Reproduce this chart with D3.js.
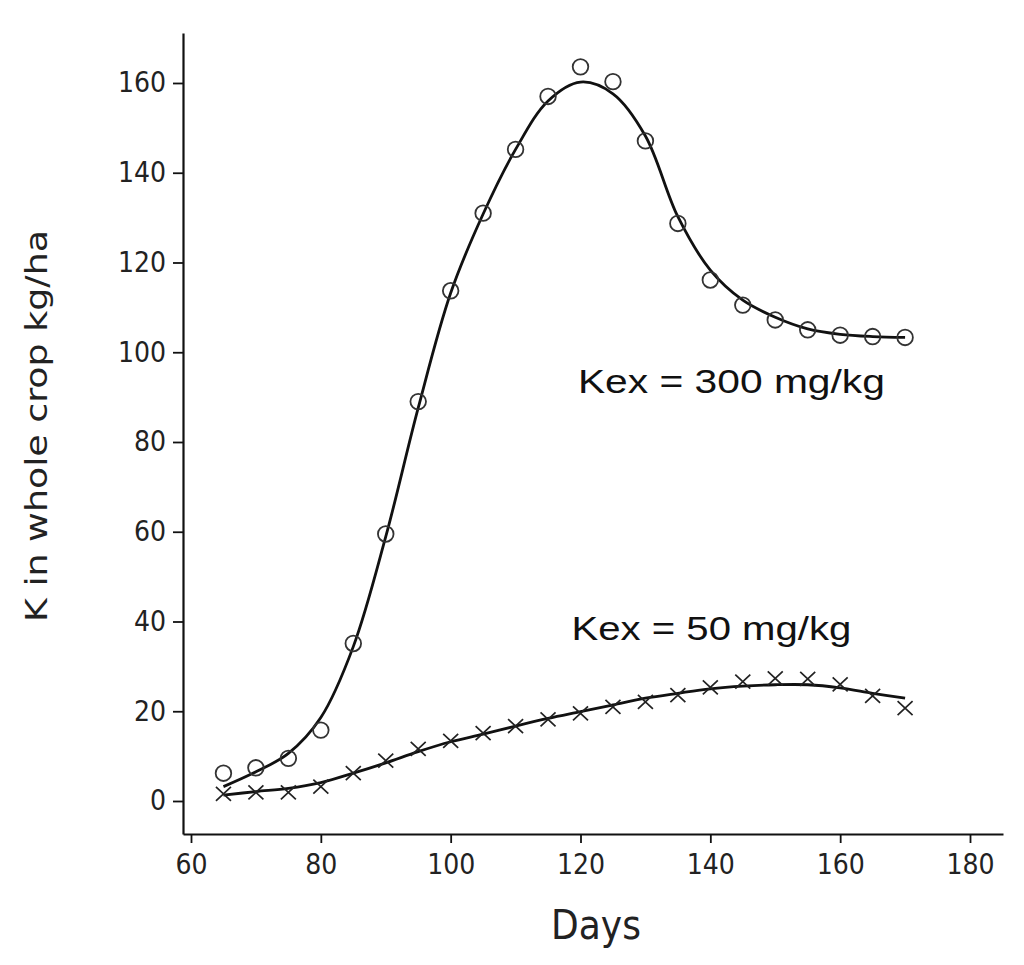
<!DOCTYPE html>
<html>
<head>
<meta charset="utf-8">
<script src="https://cdn.jsdelivr.net/npm/d3@7"></script>
<style>
  html, body { margin: 0; padding: 0; background: #fff; }
  svg { display: block; }
  .tick text { font-family: "Liberation Sans Narrow", "DejaVu Sans Condensed", sans-serif; font-stretch: condensed; }
</style>
</head>
<body>
<svg id="chart" width="1024" height="965"></svg>
<script>
// ---- data ----
const days = [65,70,75,80,85,90,95,100,105,110,115,120,125,130,135,140,145,150,155,160,165,170];
const kex300Obs = [6.2,7.4,9.5,15.8,35.1,59.5,89.0,113.7,131.0,145.2,157.0,163.6,160.3,147.1,128.7,116.1,110.5,107.2,105.0,103.8,103.5,103.3];
const kex300Fit = [3.2,6.5,10.6,18.6,34.4,58.9,87.6,113.2,130.8,145.2,156.0,160.2,157.6,148.2,130.2,118.3,111.6,107.8,105.2,104.0,103.5,103.3];
const kex50Obs  = [1.6,1.9,1.9,3.2,6.2,9.0,11.6,13.4,15.1,16.7,18.2,19.5,21.0,22.1,23.6,25.3,26.6,27.3,27.2,26.0,23.4,20.7];
const kex50Fit  = [1.3,2.1,2.8,4.1,6.2,8.5,11.0,13.2,14.9,16.7,18.4,19.9,21.4,22.9,24.0,25.0,25.6,25.9,25.9,25.2,24.0,22.9];
const xTicks = [60,80,100,120,140,160,180];
const yTicks = [0,20,40,60,80,100,120,140,160];
const xTitle = "Days";
const yTitle = "K in whole crop kg/ha";
const labels = [
  { text: "Kex = 300 mg/kg", day: 119.6, value: 90.9, len: 307 },
  { text: "Kex = 50 mg/kg",  day: 118.6, value: 35.9, len: 280 }
];

// ---- scales ----
const svg = d3.select("#chart");
const x = d3.scaleLinear().domain([60 - 8/6.4917, 180 + 33/6.4917]).range([183, 1003]);
const y = d3.scaleLinear().domain([-7.354, 171.14]).range([834, 33]);

// ---- axes ----
const xAxis = d3.axisBottom(x).tickValues(xTicks).tickSizeInner(9).tickSizeOuter(0).tickPadding(11);
const yAxis = d3.axisLeft(y).tickValues(yTicks).tickSizeInner(10).tickSizeOuter(0).tickPadding(7);

const gx = svg.append("g").attr("transform", "translate(0,834)").call(xAxis);
const gy = svg.append("g").attr("transform", "translate(183,0)").call(yAxis);
[gx, gy].forEach(g => {
  g.select(".domain").attr("stroke", "#111").attr("stroke-width", 2.2);
  g.selectAll(".tick line").attr("stroke", "#111").attr("stroke-width", 1.8);
  g.selectAll(".tick text").attr("fill", "#222").attr("font-size", 28);
});

// axis titles
svg.append("text")
  .attr("x", 596).attr("y", 939)
  .attr("text-anchor", "middle")
  .attr("font-family", "'Liberation Sans Narrow', 'DejaVu Sans Condensed', sans-serif")
  .attr("font-size", 40).attr("fill", "#222")
  .text(xTitle);

svg.append("text")
  .attr("transform", "translate(47,426) rotate(-90)")
  .attr("text-anchor", "middle")
  .attr("font-family", "'Liberation Sans Narrow', 'DejaVu Sans Condensed', sans-serif")
  .attr("font-size", 30).attr("fill", "#222")
  .attr("textLength", 392).attr("lengthAdjust", "spacingAndGlyphs")
  .text(yTitle);

// ---- fitted curves ----
const line = d3.line().x((d, i) => x(days[i])).y(d => y(d)).curve(d3.curveCatmullRom.alpha(0.5));
[kex300Fit, kex50Fit].forEach(arr => {
  svg.append("path").datum(arr)
    .attr("d", line)
    .attr("fill", "none").attr("stroke", "#111").attr("stroke-width", 2.8);
});

// ---- observations ----
svg.append("g").selectAll("circle").data(kex300Obs).join("circle")
  .attr("cx", (d, i) => x(days[i])).attr("cy", d => y(d))
  .attr("r", 7.8).attr("fill", "none").attr("stroke", "#333").attr("stroke-width", 1.8);

const csx = 7.5, csy = 7;
svg.append("g").selectAll("path").data(kex50Obs).join("path")
  .attr("d", (d, i) => {
    const cx = x(days[i]), cy = y(d);
    return `M${cx-csx},${cy-csy}L${cx+csx},${cy+csy}M${cx-csx},${cy+csy}L${cx+csx},${cy-csy}`;
  })
  .attr("stroke", "#222").attr("stroke-width", 1.7).attr("fill", "none");

// ---- labels ----
labels.forEach(l => {
  svg.append("text")
    .attr("x", x(l.day)).attr("y", y(l.value))
    .attr("font-family", "'Liberation Sans', Arial, sans-serif")
    .attr("font-size", 33).attr("fill", "#111")
    .attr("textLength", l.len).attr("lengthAdjust", "spacingAndGlyphs")
    .text(l.text);
});
</script>
</body>
</html>
